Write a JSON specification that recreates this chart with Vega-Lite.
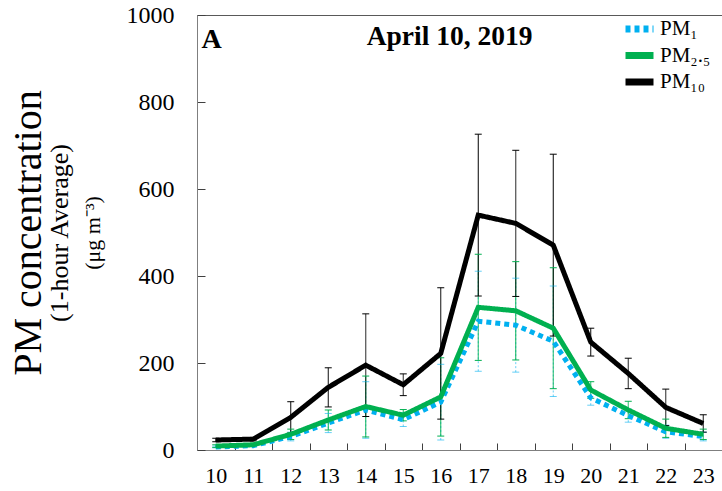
{
  "$schema": "https://vega.github.io/schema/vega-lite/v6.json",
  "width": 525,
  "height": 435,
  "autosize": "none",
  "padding": {"left": 197, "top": 15, "right": 0, "bottom": 41},
  "background": "white",
  "config": {"font": "Liberation Serif", "view": {"stroke": "#595959", "strokeWidth": 1}},
  "title": {"text": "April 10, 2019", "anchor": "middle", "frame": "group", "fontSize": 27.5, "fontWeight": "bold", "color": "black", "dx": -10, "offset": -69, "baseline": "alphabetic"},
  "data": {"values": [
    {"series": "PM₁", "hour": "10", "mean": 7, "lo": 5, "hi": 9},
    {"series": "PM₁", "hour": "11", "mean": 10, "lo": 8, "hi": 12},
    {"series": "PM₁", "hour": "12", "mean": 31, "lo": 21, "hi": 41},
    {"series": "PM₁", "hour": "13", "mean": 62, "lo": 40, "hi": 84},
    {"series": "PM₁", "hour": "14", "mean": 92, "lo": 27, "hi": 157},
    {"series": "PM₁", "hour": "15", "mean": 70, "lo": 54, "hi": 86},
    {"series": "PM₁", "hour": "16", "mean": 110, "lo": 23, "hi": 197},
    {"series": "PM₁", "hour": "17", "mean": 296, "lo": 181, "hi": 411},
    {"series": "PM₁", "hour": "18", "mean": 287, "lo": 179, "hi": 395},
    {"series": "PM₁", "hour": "19", "mean": 250, "lo": 123, "hi": 377},
    {"series": "PM₁", "hour": "20", "mean": 120, "lo": 103, "hi": 137},
    {"series": "PM₁", "hour": "21", "mean": 79, "lo": 64, "hi": 94},
    {"series": "PM₁", "hour": "22", "mean": 42, "lo": 27, "hi": 57},
    {"series": "PM₁", "hour": "23", "mean": 31, "lo": 21, "hi": 41},
    {"series": "PM₂.₅", "hour": "10", "mean": 9, "lo": 6, "hi": 12},
    {"series": "PM₂.₅", "hour": "11", "mean": 12, "lo": 9, "hi": 15},
    {"series": "PM₂.₅", "hour": "12", "mean": 36, "lo": 24, "hi": 48},
    {"series": "PM₂.₅", "hour": "13", "mean": 69, "lo": 46, "hi": 92},
    {"series": "PM₂.₅", "hour": "14", "mean": 100, "lo": 30, "hi": 170},
    {"series": "PM₂.₅", "hour": "15", "mean": 80, "lo": 67, "hi": 93},
    {"series": "PM₂.₅", "hour": "16", "mean": 122, "lo": 32, "hi": 212},
    {"series": "PM₂.₅", "hour": "17", "mean": 328, "lo": 206, "hi": 450},
    {"series": "PM₂.₅", "hour": "18", "mean": 320, "lo": 207, "hi": 433},
    {"series": "PM₂.₅", "hour": "19", "mean": 280, "lo": 141, "hi": 419},
    {"series": "PM₂.₅", "hour": "20", "mean": 138, "lo": 119, "hi": 157},
    {"series": "PM₂.₅", "hour": "21", "mean": 92, "lo": 72, "hi": 112},
    {"series": "PM₂.₅", "hour": "22", "mean": 50, "lo": 29, "hi": 71},
    {"series": "PM₂.₅", "hour": "23", "mean": 36, "lo": 24, "hi": 48},
    {"series": "PM₁₀", "hour": "10", "mean": 23, "lo": 19, "hi": 27},
    {"series": "PM₁₀", "hour": "11", "mean": 25, "lo": 21, "hi": 29},
    {"series": "PM₁₀", "hour": "12", "mean": 75, "lo": 39, "hi": 111},
    {"series": "PM₁₀", "hour": "13", "mean": 144, "lo": 99, "hi": 189},
    {"series": "PM₁₀", "hour": "14", "mean": 195, "lo": 77, "hi": 313},
    {"series": "PM₁₀", "hour": "15", "mean": 150, "lo": 125, "hi": 175},
    {"series": "PM₁₀", "hour": "16", "mean": 222, "lo": 71, "hi": 373},
    {"series": "PM₁₀", "hour": "17", "mean": 540, "lo": 354, "hi": 726},
    {"series": "PM₁₀", "hour": "18", "mean": 521, "lo": 353, "hi": 689},
    {"series": "PM₁₀", "hour": "19", "mean": 471, "lo": 262, "hi": 680},
    {"series": "PM₁₀", "hour": "20", "mean": 248, "lo": 216, "hi": 280},
    {"series": "PM₁₀", "hour": "21", "mean": 176, "lo": 141, "hi": 211},
    {"series": "PM₁₀", "hour": "22", "mean": 98, "lo": 56, "hi": 140},
    {"series": "PM₁₀", "hour": "23", "mean": 61, "lo": 41, "hi": 81}
  ]},
  "encoding": {
    "x": {"field": "hour", "type": "ordinal", "scale": {"type": "band", "paddingInner": 0, "paddingOuter": 0},
      "axis": {"title": "A", "titleX": 4, "titleY": -403, "titleAngle": 0, "titleAlign": "left", "titleBaseline": "alphabetic", "titleFontSize": 28, "titleFontWeight": "bold", "titleColor": "black",
        "labelAngle": 0, "labelFontSize": 22, "labelColor": "black", "labelPadding": 22, "tickBand": "extent", "tickSize": -7, "tickColor": "#404040", "domainColor": "#7f7f7f", "grid": false}}
  },
  "layer": [
    {
      "mark": {"type": "rule", "strokeWidth": 1},
      "encoding": {
        "y": {"field": "lo", "type": "quantitative", "scale": {"domain": [0, 1000], "nice": false},
          "axis": {"orient": "left", "domain": false, "ticks": false, "labels": false, "grid": false, "title": "(μg m⁻³)", "titleFontSize": 22, "titleFontWeight": "normal", "titleColor": "black", "titlePadding": 93}},
        "y2": {"field": "hi"},
        "color": {"field": "series", "type": "nominal"},
        "strokeDash": {"condition": {"test": "datum.series === 'PM₁'", "value": [2, 2]}, "value": [1, 0]},
        "opacity": {"condition": {"test": "datum.series === 'PM₁'", "value": 0.6}, "value": 1}
      }
    },
    {
      "mark": {"type": "tick", "thickness": 1, "size": 7},
      "encoding": {
        "y": {"field": "hi", "type": "quantitative",
          "axis": {"orient": "left", "domain": false, "ticks": false, "labels": false, "grid": false, "title": "(1-hour Average)", "titleFontSize": 26, "titleFontWeight": "normal", "titleColor": "black", "titlePadding": 125}},
        "color": {"field": "series", "type": "nominal"},
        "opacity": {"condition": {"test": "datum.series === 'PM₁'", "value": 0.6}, "value": 1}
      }
    },
    {
      "mark": {"type": "tick", "thickness": 1, "size": 7},
      "encoding": {
        "y": {"field": "lo", "type": "quantitative",
          "axis": {"orient": "left", "domain": false, "ticks": false, "labels": false, "grid": false, "title": "PM concentration", "titleFontSize": 40, "titleFontWeight": "normal", "titleColor": "black", "titlePadding": 149}},
        "color": {"field": "series", "type": "nominal"},
        "opacity": {"condition": {"test": "datum.series === 'PM₁'", "value": 0.6}, "value": 1}
      }
    },
    {
      "mark": {"type": "line", "strokeWidth": 5, "strokeCap": "butt", "strokeJoin": "miter"},
      "encoding": {
        "y": {"field": "mean", "type": "quantitative",
          "axis": {"orient": "left", "values": [0, 200, 400, 600, 800, 1000], "format": "d", "labelFontSize": 24, "labelColor": "black", "labelPadding": 31, "tickSize": -8, "tickColor": "#404040", "domainColor": "#7f7f7f", "grid": false, "title": null}},
        "color": {"field": "series", "type": "nominal",
          "scale": {"domain": ["PM₁", "PM₂.₅", "PM₁₀"], "range": ["#00B0F0", "#00B050", "#000000"]},
          "legend": {"orient": "none", "legendX": 425, "legendY": 3, "title": null, "symbolType": "stroke", "symbolSize": 784, "symbolStrokeWidth": 7, "labelFontSize": 21, "labelColor": "black", "clipHeight": 22, "rowPadding": 4.5, "labelOffset": 3}},
        "strokeDash": {"field": "series", "type": "nominal",
          "scale": {"domain": ["PM₁", "PM₂.₅", "PM₁₀"], "range": [[5, 4], [1, 0], [1, 0]]}}
      }
    }
  ],
  "resolve": {"axis": {"y": "independent"}}
}
